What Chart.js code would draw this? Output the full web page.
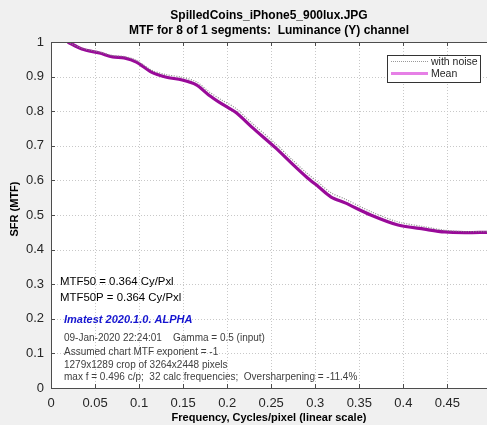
<!DOCTYPE html>
<html>
<head>
<meta charset="utf-8">
<script src="https://cdn.jsdelivr.net/npm/chart.js@4.4.1/dist/chart.umd.min.js"></script>
<style>
  html, body { margin: 0; padding: 0; background: #f0f0f0; }
  #wrap { width: 487px; height: 425px; }
</style>
</head>
<body>
<div id="wrap"><canvas id="myChart" width="487" height="425"></canvas></div>
<script>
// frequencies (cycles/pixel) and SFR values
var freqs     = [0.019, 0.035, 0.055, 0.07, 0.083, 0.097, 0.114, 0.13, 0.149, 0.165, 0.179, 0.194, 0.21, 0.228, 0.255, 0.273, 0.29, 0.304, 0.318, 0.334, 0.363, 0.394, 0.424, 0.447, 0.47, 0.495];
var meanSfr   = [1.0, 0.98, 0.968, 0.957, 0.954, 0.942, 0.913, 0.899, 0.89, 0.876, 0.847, 0.821, 0.796, 0.754, 0.694, 0.65, 0.61, 0.581, 0.552, 0.535, 0.5, 0.471, 0.459, 0.451, 0.449, 0.45];
var noiseSfr  = [1.0, 0.982, 0.971, 0.961, 0.958, 0.947, 0.919, 0.906, 0.898, 0.885, 0.857, 0.832, 0.808, 0.766, 0.706, 0.662, 0.622, 0.593, 0.564, 0.546, 0.51, 0.48, 0.466, 0.456, 0.452, 0.452];
var xTicks = [0, 0.05, 0.1, 0.15, 0.2, 0.25, 0.3, 0.35, 0.4, 0.45];
var yTicks = [0, 0.1, 0.2, 0.3, 0.4, 0.5, 0.6, 0.7, 0.8, 0.9, 1];

var titleLines = ["SpilledCoins_iPhone5_900lux.JPG", "MTF for 8 of 1 segments:  Luminance (Y) channel"];
var xTitle = "Frequency, Cycles/pixel (linear scale)";
var yTitle = "SFR (MTF)";
var legendLabels = ["with noise", "Mean"];
var mtfLines = ["MTF50 = 0.364 Cy/Pxl", "MTF50P = 0.364 Cy/Pxl"];
var versionLine = "Imatest 2020.1.0. ALPHA";
var infoLines = [
  "09-Jan-2020 22:24:01    Gamma = 0.5 (input)",
  "Assumed chart MTF exponent = -1",
  "1279x1289 crop of 3264x2448 pixels",
  "max f = 0.496 c/p;  32 calc frequencies;  Oversharpening = -11.4%"
];

function pts(xs, ys) {
  return xs.map(function (x, i) { return { x: x, y: ys[i] }; });
}

var FONT = "'Liberation Sans', Arial, Helvetica, sans-serif";

var matlabLook = {
  id: 'matlabLook',
  beforeDraw: function (chart) {
    var c = chart.ctx, a = chart.chartArea;
    c.save();
    c.fillStyle = '#f0f0f0';
    c.fillRect(0, 0, chart.width, chart.height);
    c.fillStyle = '#ffffff';
    c.fillRect(a.left, a.top, a.right - a.left, a.bottom - a.top);
    c.restore();
  },
  beforeDatasetsDraw: function (chart) {
    // dotted grid
    var c = chart.ctx, a = chart.chartArea;
    var xs = chart.scales.x, ys = chart.scales.y;
    c.save();
    c.strokeStyle = '#c8c8c8';
    c.lineWidth = 1;
    c.setLineDash([1, 2]);
    c.beginPath();
    xTicks.forEach(function (v) {
      if (v === 0) return;
      var px = Math.round(xs.getPixelForValue(v)) + 0.5;
      c.moveTo(px, a.top); c.lineTo(px, a.bottom);
    });
    yTicks.forEach(function (v) {
      if (v === 0 || v === 1) return;
      var py = Math.round(ys.getPixelForValue(v)) + 0.5;
      c.moveTo(a.left, py); c.lineTo(a.right, py);
    });
    c.stroke();
    c.restore();
  },
  afterDraw: function (chart) {
    var c = chart.ctx, a = chart.chartArea;
    var xs = chart.scales.x, ys = chart.scales.y;
    c.save();
    // axis box and inward ticks
    c.strokeStyle = '#4d4d4d';
    c.lineWidth = 1;
    c.beginPath();
    c.moveTo(a.left + 0.5, a.top + 0.5);
    c.lineTo(a.left + 0.5, a.bottom + 0.5);
    c.lineTo(a.right, a.bottom + 0.5);
    c.moveTo(a.left, a.top + 0.5);
    c.lineTo(a.right, a.top + 0.5);
    xTicks.forEach(function (v) {
      var px = Math.round(xs.getPixelForValue(v)) + 0.5;
      c.moveTo(px, a.bottom); c.lineTo(px, a.bottom - 4);
      c.moveTo(px, a.top); c.lineTo(px, a.top + 4);
    });
    yTicks.forEach(function (v) {
      var py = Math.round(ys.getPixelForValue(v)) + 0.5;
      c.moveTo(a.left, py); c.lineTo(a.left + 4, py);
    });
    c.stroke();

    // tick labels
    c.fillStyle = '#262626';
    c.font = '13px ' + FONT;
    c.textBaseline = 'middle';
    c.textAlign = 'center';
    xTicks.forEach(function (v) {
      c.fillText(String(v), xs.getPixelForValue(v), a.bottom + 15);
    });
    c.textAlign = 'right';
    yTicks.forEach(function (v) {
      c.fillText(String(v), a.left - 7, ys.getPixelForValue(v));
    });

    // titles
    c.fillStyle = '#000';
    c.textAlign = 'center';
    c.font = 'bold 12px ' + FONT;
    var cx = (a.left + a.right) / 2;
    c.fillText(titleLines[0], cx, 16);
    c.fillText(titleLines[1], cx, 31);

    // axis titles
    c.font = 'bold 11px ' + FONT;
    c.fillText(xTitle, cx, a.bottom + 30);
    c.save();
    c.translate(15, (a.top + a.bottom) / 2 - 6);
    c.rotate(-Math.PI / 2);
    c.fillText(yTitle, 0, 0);
    c.restore();

    // legend
    var lx = 387, ly = 55, lw = 93, lh = 27;
    c.fillStyle = '#fff';
    c.fillRect(lx, ly, lw, lh);
    c.strokeStyle = '#333';
    c.lineWidth = 1;
    c.strokeRect(lx + 0.5, ly + 0.5, lw, lh);
    c.strokeStyle = '#999';
    c.setLineDash([1, 1]);
    c.beginPath(); c.moveTo(lx + 4, ly + 6.5); c.lineTo(lx + 41, ly + 6.5); c.stroke();
    c.setLineDash([]);
    c.strokeStyle = '#e680e6';
    c.lineWidth = 3;
    c.beginPath(); c.moveTo(lx + 4, ly + 18.5); c.lineTo(lx + 41, ly + 18.5); c.stroke();
    c.fillStyle = '#262626';
    c.textAlign = 'left';
    c.font = '10.5px ' + FONT;
    c.fillText(legendLabels[0], lx + 44, ly + 7);
    c.fillText(legendLabels[1], lx + 44, ly + 19);

    // annotations
    c.fillStyle = '#000';
    c.font = '11.4px ' + FONT;
    c.fillText(mtfLines[0], 60, 282);
    c.fillText(mtfLines[1], 60, 298);
    c.fillStyle = '#1515d0';
    c.font = 'italic bold 11px ' + FONT;
    c.fillText(versionLine, 64, 320);
    c.fillStyle = '#404040';
    c.font = '10px ' + FONT;
    var iy = [338, 352, 365, 377];
    infoLines.forEach(function (t, i) { c.fillText(t, 64, iy[i]); });
    c.restore();
  }
};

var ctx = document.getElementById('myChart').getContext('2d');
var chart = new Chart(ctx, {
  type: 'line',
  data: {
    datasets: [{
      label: legendLabels[0],
      data: pts(freqs, noiseSfr),
      borderColor: '#8a8a8a',
      borderWidth: 1.2,
      borderDash: [1, 1.5],
      pointRadius: 0,
      tension: 0.3,
      fill: false
    }, {
      label: legendLabels[1],
      data: pts(freqs, meanSfr),
      borderColor: '#990a99',
      borderWidth: 3.2,
      pointRadius: 0,
      tension: 0.3,
      fill: false
    }]
  },
  options: {
    responsive: false,
    animation: false,
    events: [],
    layout: { padding: { top: 42, right: 0, bottom: 0, left: 0 } },
    plugins: { legend: { display: false }, tooltip: { enabled: false }, title: { display: false } },
    scales: {
      x: {
        type: 'linear',
        min: 0,
        max: 0.495,
        afterBuildTicks: function (s) { s.ticks = xTicks.map(function (v) { return { value: v }; }); },
        afterFit: function (s) { s.height = 37; },
        grid: { display: false },
        border: { display: false },
        ticks: { display: false }
      },
      y: {
        min: 0,
        max: 1,
        afterBuildTicks: function (s) { s.ticks = yTicks.map(function (v) { return { value: v }; }); },
        afterFit: function (s) { s.width = 51; },
        grid: { display: false },
        border: { display: false },
        ticks: { display: false }
      }
    }
  },
  plugins: [matlabLook]
});
</script>
</body>
</html>
